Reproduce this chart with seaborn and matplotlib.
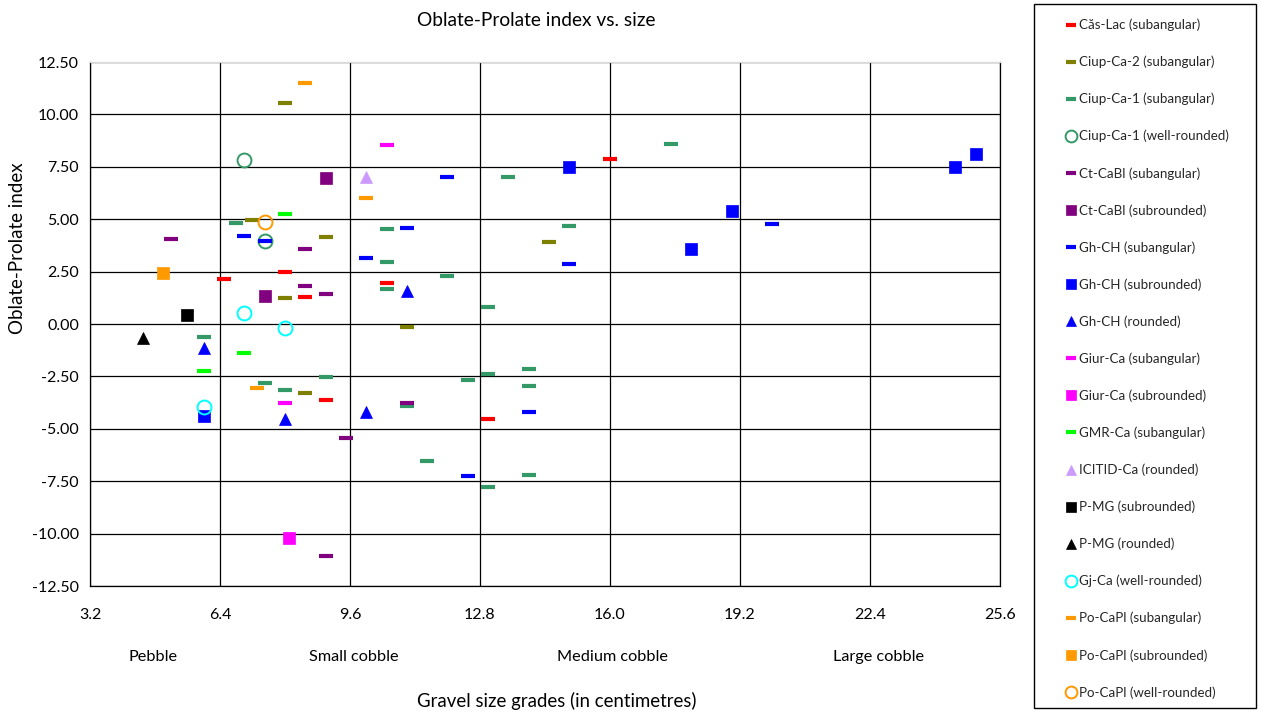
import matplotlib
matplotlib.use("Agg")
import matplotlib.pyplot as plt
import seaborn as sns
import pandas as pd
from matplotlib.patches import Rectangle
from matplotlib.lines import Line2D

# Gravel size (cm) and oblate-prolate index for each sample group
cas_lac_sub_x = [8.0, 6.5, 8.5, 10.5, 9.0, 13.0, 16.0]
cas_lac_sub_y = [2.50, 2.16, 1.29, 1.94, -3.62, -4.54, 7.89]

ciup2_sub_x = [8.0, 7.2, 9.0, 8.0, 8.5, 11.0, 14.5]
ciup2_sub_y = [10.54, 4.95, 4.17, 1.25, -3.30, -0.14, 3.92]

ciup1_sub_x = [6.8, 6.0, 7.5, 8.0, 9.0, 10.5, 10.5, 10.5, 12.0, 13.0, 13.5, 15.0,
               17.5, 14.0, 13.0, 12.5, 14.0, 11.0, 11.5, 14.0, 13.0]
ciup1_sub_y = [4.82, -0.60, -2.83, -3.17, -2.52, 4.51, 2.98, 1.67, 2.27, 0.81, 7.03, 4.68,
               8.60, -2.16, -2.40, -2.65, -2.98, -3.90, -6.56, -7.19, -7.76]

ciup1_wr_x = [7.0, 7.5]
ciup1_wr_y = [7.84, 3.97]

ctcabl_sub_x = [5.2, 8.5, 8.5, 9.0, 9.5, 9.0, 11.0]
ctcabl_sub_y = [4.05, 3.57, 1.80, 1.44, -5.46, -11.06, -3.76]

ctcabl_subr_x = [9.0, 7.5]
ctcabl_subr_y = [6.95, 1.33]

ghch_sub_x = [7.0, 7.5, 10.0, 11.0, 12.0, 15.0, 20.0, 14.0, 12.5]
ghch_sub_y = [4.20, 3.97, 3.13, 4.60, 7.03, 2.84, 4.76, -4.19, -7.27]

ghch_subr_x = [6.0, 15.0, 18.0, 19.0, 24.5, 25.0]
ghch_subr_y = [-4.38, 7.48, 3.59, 5.38, 7.51, 8.11]

ghch_rd_x = [6.0, 8.0, 10.0, 11.0]
ghch_rd_y = [-1.14, -4.54, -4.19, 1.56]

giur_sub_x = [8.0, 10.5]
giur_sub_y = [-3.75, 8.54]

giur_subr_x = [8.1]
giur_subr_y = [-10.20]

gmr_sub_x = [8.0, 7.0, 6.0]
gmr_sub_y = [5.25, -1.40, -2.25]

icitid_rd_x = [10.0]
icitid_rd_y = [7.00]

pmg_subr_x = [5.6]
pmg_subr_y = [0.45]

pmg_rd_x = [4.5]
pmg_rd_y = [-0.65]

gjca_wr_x = [7.0, 8.0, 6.0]
gjca_wr_y = [0.54, -0.19, -3.97]

pocapl_sub_x = [8.5, 10.0, 7.3]
pocapl_sub_y = [11.51, 6.00, -3.05]

pocapl_subr_x = [5.0]
pocapl_subr_y = [2.45]

pocapl_wr_x = [7.5]
pocapl_wr_y = [4.85]

x_ticks = [3.2, 6.4, 9.6, 12.8, 16.0, 19.2, 22.4, 25.6]
y_ticks = [-12.5, -10.0, -7.5, -5.0, -2.5, 0.0, 2.5, 5.0, 7.5, 10.0, 12.5]
grade_names = ["Pebble", "Small cobble", "Medium cobble", "Large cobble"]
grade_pos = [4.75, 9.7, 16.07, 22.62]

# (label, x, y, colour, marker style)
series = [
    ("Căs-Lac (subangular)", cas_lac_sub_x, cas_lac_sub_y, "#FF0000", "dash"),
    ("Ciup-Ca-2 (subangular)", ciup2_sub_x, ciup2_sub_y, "#808000", "dash"),
    ("Ciup-Ca-1 (subangular)", ciup1_sub_x, ciup1_sub_y, "#339966", "dash"),
    ("Ciup-Ca-1 (well-rounded)", ciup1_wr_x, ciup1_wr_y, "#339966", "ring"),
    ("Ct-CaBl (subangular)", ctcabl_sub_x, ctcabl_sub_y, "#800080", "dash"),
    ("Ct-CaBl (subrounded)", ctcabl_subr_x, ctcabl_subr_y, "#800080", "square"),
    ("Gh-CH (subangular)", ghch_sub_x, ghch_sub_y, "#0000FF", "dash"),
    ("Gh-CH (subrounded)", ghch_subr_x, ghch_subr_y, "#0000FF", "square"),
    ("Gh-CH (rounded)", ghch_rd_x, ghch_rd_y, "#0000FF", "tri"),
    ("Giur-Ca (subangular)", giur_sub_x, giur_sub_y, "#FF00FF", "dash"),
    ("Giur-Ca (subrounded)", giur_subr_x, giur_subr_y, "#FF00FF", "square"),
    ("GMR-Ca (subangular)", gmr_sub_x, gmr_sub_y, "#00FF00", "dash"),
    ("ICITID-Ca (rounded)", icitid_rd_x, icitid_rd_y, "#CC99FF", "tri"),
    ("P-MG (subrounded)", pmg_subr_x, pmg_subr_y, "#000000", "square"),
    ("P-MG (rounded)", pmg_rd_x, pmg_rd_y, "#000000", "tri"),
    ("Gj-Ca (well-rounded)", gjca_wr_x, gjca_wr_y, "#00FFFF", "ring"),
    ("Po-CaPl (subangular)", pocapl_sub_x, pocapl_sub_y, "#FF9900", "dash"),
    ("Po-CaPl (subrounded)", pocapl_subr_x, pocapl_subr_y, "#FF9900", "square"),
    ("Po-CaPl (well-rounded)", pocapl_wr_x, pocapl_wr_y, "#FF9900", "ring"),
]

styles = {
    "dash": dict(marker="_", markersize=10, markeredgewidth=3),
    "ring": dict(marker="o", markersize=10, markeredgewidth=1.4),
    "square": dict(marker="s", markersize=8.5, markeredgewidth=0.5),
    "tri": dict(marker="^", markersize=9, markeredgewidth=0.5),
}

sns.set_theme(style="white")
plt.rcParams["font.family"] = ["Lato", "DejaVu Sans"]
plt.rcParams["axes.unicode_minus"] = False

W, H = 1261, 713
fig = plt.figure(figsize=(W / 100, H / 100), dpi=100)
ax = fig.add_axes([90 / W, 1 - 586 / H, 910 / W, 524 / H])

handles = []
for label, xs, ys, col, kind in series:
    df = pd.DataFrame({"size": xs, "index": ys})
    st = dict(styles[kind])
    face = "none" if kind == "ring" else col
    sns.lineplot(data=df, x="size", y="index", ax=ax, estimator=None, sort=False,
                 linestyle="none", color=col, markerfacecolor=face,
                 markeredgecolor=col, legend=False, zorder=3, **st)
    scale = 0.75 if kind == "dash" else 0.85
    handles.append(Line2D([], [], linestyle="none", color=col,
                          markerfacecolor=face, markeredgecolor=col,
                          **dict(st, markersize=st["markersize"] * scale)))

ax.set_xlim(3.2, 25.6)
ax.set_ylim(-12.5, 12.5)
ax.set_xticks(x_ticks)
ax.set_xticklabels([f"{v:.1f}" for v in x_ticks])
ax.set_yticks(y_ticks)
ax.set_yticklabels([f"{v:.2f}" for v in y_ticks])
ax.grid(True, color="#000000", linewidth=0.9)
ax.set_axisbelow(True)
ax.tick_params(axis="both", which="major", direction="out", length=5, width=0.9,
               color="#000000", labelsize=11.5, labelcolor="#000000")
ax.tick_params(axis="x", pad=11)
ax.tick_params(axis="y", pad=3)
for side in ["left", "bottom", "right"]:
    ax.spines[side].set_color("#000000")
    ax.spines[side].set_linewidth(0.9)
ax.spines["top"].set_color("#D9D9D9")
ax.spines["top"].set_linewidth(0.9)
ax.set_xlabel("")
ax.set_ylabel("")

for name, pos in zip(grade_names, grade_pos):
    ax.text(pos, 1 - (657 - 62) / 524, name, transform=ax.get_xaxis_transform(),
            ha="center", va="center", fontsize=11.7, color="#000000")

fig.text(536 / W, 1 - 20 / H, "Oblate-Prolate index vs. size", ha="center", va="center",
         fontsize=13.8, color="#000000")
fig.text(557 / W, 1 - 701 / H, "Gravel size grades (in centimetres)", ha="center",
         va="center", fontsize=13.4, color="#000000")
fig.text(18 / W, 1 - 248 / H, "Oblate-Prolate index", ha="center", va="center",
         rotation=90, fontsize=13.5, color="#000000")

# legend box
fig.patches.append(Rectangle((1034 / W, 1 - 708 / H), 222 / W, 704 / H,
                             transform=fig.transFigure, facecolor="white",
                             edgecolor="#000000", linewidth=1.0, zorder=0))
fig.legend(handles, [s[0] for s in series], loc="upper left",
           bbox_to_anchor=(1053.5 / W, 1 - 8 / H), frameon=False, fontsize=9.6,
           labelspacing=1.84, handlelength=1.0, handletextpad=0.12, borderpad=0.3)

fig.savefig("out.png", dpi=100, facecolor="white")
